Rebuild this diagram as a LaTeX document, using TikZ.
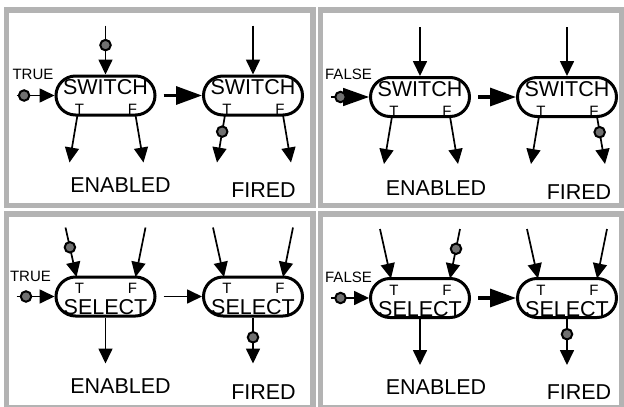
\documentclass[tikz,border=0pt]{standalone}
\usepackage{fontspec}
\setmainfont{Liberation Sans}
\usetikzlibrary{arrows.meta,calc}

\definecolor{framegray}{HTML}{B3B3B3}
\definecolor{tokengray}{HTML}{707070}

\newcommand\gatefont{\fontsize{21.5}{21.5}\selectfont}
\newcommand\portfont{\fontsize{15}{15}\selectfont}
\newcommand\ctrlfont{\fontsize{15}{15}\selectfont}
\newcommand\statusfont{\fontsize{21.5}{21.5}\selectfont}

\tikzset{
  frame/.style={draw=framegray, line width=5.5pt},
  gate/.style={draw, line width=3pt, rectangle, rounded corners=19.5pt,
    minimum width=99pt, minimum height=39pt, inner sep=0pt},
  gatename/.style={anchor=base, inner sep=0pt, font=\gatefont},
  portmark/.style={anchor=base, inner sep=0pt, font=\portfont},
  ctrllabel/.style={inner sep=0pt, font=\ctrlfont},
  status/.style={inner sep=0pt, font=\statusfont},
  wire/.style={line width=1.7pt, -{Triangle[length=15pt,width=14pt]}},
  bigwire/.style={line width=1.7pt, -{Triangle[length=26pt,width=18pt]}},
  heavy/.style={line width=3.2pt},
  token/.style={circle, draw, line width=2pt, fill=tokengray,
    minimum size=10.5pt, inner sep=0pt},
}

% SWITCH actor: one control input on the left, one data input on top,
% outputs T and F on the bottom edge
\newcommand\switchunit[3]{%
  \node[gate] (#1) at (#2,#3) {};
  \node[gatename] (#1-name) at ($(#1)+(0,-1)$) {SWITCH};
  \node[portmark] (#1-t) at ($(#1)+(-26,19)$) {T};
  \node[portmark] (#1-f) at ($(#1)+(27,19)$) {F};
  \coordinate (#1-in) at ($(#1)+(0,-70)$);
  \coordinate (#1-left) at ($(#1)+(-89,0)$);
  \coordinate (#1-next) at ($(#1)+(58,0)$);
  \coordinate (#1-tout) at ($(#1)+(-28,19.5)$);
  \coordinate (#1-tend) at ($(#1)+(-36,67)$);
  \coordinate (#1-fout) at ($(#1)+(30,19.5)$);
  \coordinate (#1-fend) at ($(#1)+(38,67)$);
}

% SELECT actor: one control input on the left, inputs T and F on top,
% one output at the bottom
\newcommand\selectunit[3]{%
  \node[gate] (#1) at (#2,#3) {};
  \node[gatename] (#1-name) at ($(#1)+(0,18)$) {SELECT};
  \node[portmark] (#1-t) at ($(#1)+(-26,-3)$) {T};
  \node[portmark] (#1-f) at ($(#1)+(27,-3)$) {F};
  \coordinate (#1-left) at ($(#1)+(-89,0)$);
  \coordinate (#1-next) at ($(#1)+(58,0)$);
  \coordinate (#1-tin) at ($(#1)+(-40,-69)$);
  \coordinate (#1-tend) at ($(#1)+(-29,-19.5)$);
  \coordinate (#1-fin) at ($(#1)+(40,-69)$);
  \coordinate (#1-fend) at ($(#1)+(30,-19.5)$);
  \coordinate (#1-out) at ($(#1)+(0,67)$);
}

\begin{document}
\begin{tikzpicture}[x=1pt, y=-1pt]
\useasboundingbox (0,0) rectangle (624,407);
\clip (0,0) rectangle (624,407);

% panel frames
\draw[frame] (6.5,10) rectangle (313,205.3);
\draw[frame] (320.5,10) rectangle (621.5,205.3);
\draw[frame] (6.5,214.2) rectangle (313,408);
\draw[frame] (320.5,214.2) rectangle (621.5,408);

% ---- SWITCH, control TRUE
\switchunit{A1}{105.5}{95.5}
\switchunit{A2}{253}{95.5}
\node[ctrllabel] (A-flag) at (33,74) {TRUE};
\draw[wire] (A1-in) -- node[token,pos=0.4]{} (A1.north);
\draw[wire] (A1-left) -- node[token,pos=0.2]{} (A1.west);
\draw[wire] (A1-tout) -- (A1-tend);
\draw[wire] (A1-fout) -- (A1-fend);
\draw[bigwire, heavy] (A1-next) -- (A2.west);
\draw[wire] (A2-in) -- (A2.north);
\draw[wire] (A2-tout) -- node[token,pos=0.35]{} (A2-tend);
\draw[wire] (A2-fout) -- (A2-fend);
\node[status] (A-en) at (120.5,185) {ENABLED};
\node[status] (A-fi) at (263.5,190) {FIRED};

% ---- SWITCH, control FALSE
\switchunit{B1}{420}{97}
\switchunit{B2}{567}{97}
\node[ctrllabel] (B-flag) at (348.5,74) {FALSE};
\draw[wire] (B1-in) -- (B1.north);
\draw[bigwire] (B1-left) -- node[token,pos=0.25]{} (B1.west);
\draw[wire] (B1-tout) -- (B1-tend);
\draw[wire] (B1-fout) -- (B1-fend);
\draw[bigwire, heavy] (B1-next) -- (B2.west);
\draw[wire] (B2-in) -- (B2.north);
\draw[wire] (B2-tout) -- (B2-tend);
\draw[wire] (B2-fout) -- node[token,pos=0.33]{} (B2-fend);
\node[status] (B-en) at (436,188) {ENABLED};
\node[status] (B-fi) at (579,192) {FIRED};

% ---- SELECT, control TRUE
\selectunit{C1}{105.5}{296.5}
\selectunit{C2}{253}{296.5}
\node[ctrllabel] (C-flag) at (30.5,276) {TRUE};
\draw[wire] (C1-left) -- node[token,pos=0.25]{} (C1.west);
\draw[wire] (C1-tin) -- node[token,pos=0.4]{} (C1-tend);
\draw[wire] (C1-fin) -- (C1-fend);
\draw[wire] (C1.south) -- (C1-out);
\draw[wire] (C1-next) -- (C2.west);
\draw[wire] (C2-tin) -- (C2-tend);
\draw[wire] (C2-fin) -- (C2-fend);
\draw[wire] (C2.south) -- node[token,pos=0.43]{} (C2-out);
\node[status] (C-en) at (120.5,386.5) {ENABLED};
\node[status] (C-fi) at (263.5,392) {FIRED};

% ---- SELECT, control FALSE
\selectunit{D1}{420}{298}
\selectunit{D2}{567}{298}
\node[ctrllabel] (D-flag) at (348.5,277.5) {FALSE};
\draw[wire] (D1-left) -- node[token,pos=0.25]{} (D1.west);
\draw[wire] (D1-tin) -- (D1-tend);
\draw[wire] (D1-fin) -- node[token,pos=0.4]{} (D1-fend);
\draw[wire] (D1.south) -- (D1-out);
\draw[bigwire, heavy] (D1-next) -- (D2.west);
\draw[wire] (D2-tin) -- (D2-tend);
\draw[wire] (D2-fin) -- (D2-fend);
\draw[wire] (D2.south) -- node[token,pos=0.33]{} (D2-out);
\node[status] (D-en) at (436,387.5) {ENABLED};
\node[status] (D-fi) at (579,392.5) {FIRED};
\end{tikzpicture}
\end{document}
